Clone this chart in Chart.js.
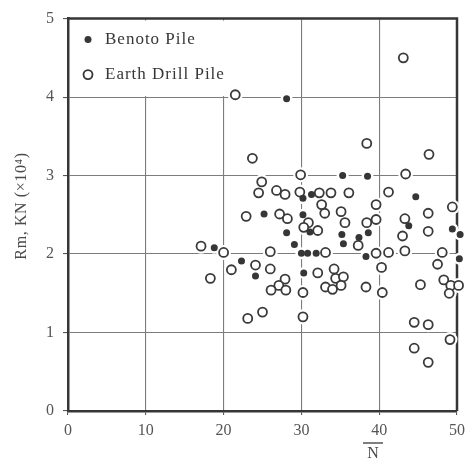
<!DOCTYPE html>
<html>
<head>
<meta charset="utf-8">
<script src="https://cdn.jsdelivr.net/npm/chart.js@4.4.1/dist/chart.umd.min.js"></script>
<style>
  html, body { margin: 0; padding: 0; background: #fff; }
  canvas { display: block; }
</style>
</head>
<body>
<canvas id="pileChart" width="474" height="466"></canvas>
<script>
// Benoto piles (filled dots): mean N value vs. ultimate bearing Rm (x10^4 kN)
const benotoN  = [28.1, 35.3, 38.5, 30.2, 31.3, 44.7, 25.2, 30.2, 28.1, 31.1,
                  35.2, 35.4, 38.6, 37.4, 43.8, 49.4, 50.4, 29.1, 30.0, 30.8,
                  31.9, 38.3, 50.3, 18.8, 22.3, 24.1, 30.3];
const benotoRm = [3.98, 3.00, 2.99, 2.71, 2.76, 2.73, 2.51, 2.50, 2.27, 2.28,
                  2.25, 2.13, 2.27, 2.21, 2.36, 2.32, 2.25, 2.12, 2.01, 2.01,
                  2.01, 1.97, 1.94, 2.08, 1.91, 1.72, 1.76];

// Earth drill piles (open circles)
const drillN  = [21.5, 43.1, 23.7, 38.4, 46.4, 29.9, 43.4, 24.9,
                 24.5, 26.8, 27.9, 29.8, 32.3, 33.8, 36.1, 41.2,
                 32.6, 33.0, 39.6, 35.1, 46.3, 49.4,
                 22.9, 27.2, 28.2, 30.9, 30.3, 32.1, 35.6, 38.4, 39.6, 43.3, 43.0, 46.3,
                 37.3,
                 17.1, 20.0, 26.0, 33.1, 39.6, 41.2, 43.3, 48.1,
                 47.5, 40.3, 18.3, 21.0, 24.1, 26.0,
                 27.9, 27.1, 26.1, 28.0, 30.2,
                 32.1, 34.2, 34.4, 35.4, 33.1, 34.0, 35.1,
                 38.3, 40.4, 45.3,
                 48.3, 49.2, 50.2, 49.0,
                 23.1, 25.0, 30.2,
                 44.5, 46.3, 49.1, 44.5, 46.3];
const drillRm = [4.03, 4.50, 3.22, 3.41, 3.27, 3.01, 3.02, 2.92,
                 2.78, 2.81, 2.76, 2.79, 2.78, 2.78, 2.78, 2.79,
                 2.63, 2.52, 2.63, 2.54, 2.52, 2.60,
                 2.48, 2.51, 2.45, 2.40, 2.34, 2.30, 2.40, 2.40, 2.44, 2.45, 2.23, 2.29,
                 2.11,
                 2.10, 2.02, 2.03, 2.02, 2.01, 2.02, 2.04, 2.02,
                 1.87, 1.83, 1.69, 1.80, 1.86, 1.81,
                 1.68, 1.60, 1.54, 1.54, 1.51,
                 1.76, 1.81, 1.69, 1.71, 1.58, 1.55, 1.60,
                 1.58, 1.51, 1.61,
                 1.67, 1.60, 1.60, 1.50,
                 1.18, 1.26, 1.20,
                 1.13, 1.10, 0.91, 0.80, 0.62];

const seriesNames = ['Benoto Pile', 'Earth Drill Pile'];
const xTickValues = [0, 10, 20, 30, 40, 50];
const yTickValues = [0, 1, 2, 3, 4, 5];
const yTitle = 'Rm, KN (×10⁴)';
const xTitle = 'N';

const INK = '#363636';
const SERIF = "'Liberation Serif', 'DejaVu Serif', serif";
const HALO = [6, 7.5];   // white clearance kept round each marker, per dataset

const toPoints = (xs, ys) => xs.map((x, i) => ({ x: x, y: ys[i] }));

// Frame, in-plot legend and the axis titles (N carries an overbar)
const figureDecor = {
    id: 'figureDecor',
    beforeDatasetsDraw(chart) {
        const { ctx, chartArea: area, scales } = chart;
        const xs = scales.x, ys = scales.y;
        ctx.save();
        // legend sits on a blank patch of the top-left cell
        ctx.fillStyle = '#fff';
        const top4 = ys.getPixelForValue(4);
        ctx.fillRect(area.left + 2, area.top + 2, xs.getPixelForValue(29) - area.left - 2, top4 - area.top - 3);
        // top and right edges of the frame
        ctx.strokeStyle = INK;
        ctx.lineWidth = 2.5;
        ctx.beginPath();
        ctx.moveTo(area.left, area.top);
        ctx.lineTo(area.right, area.top);
        ctx.lineTo(area.right, area.bottom);
        ctx.stroke();
        // grid lines stop short of the markers
        ctx.fillStyle = '#fff';
        chart.data.datasets.forEach((ds, i) => {
            chart.getDatasetMeta(i).data.forEach(pt => {
                ctx.beginPath();
                ctx.arc(pt.x, pt.y, HALO[i], 0, Math.PI * 2);
                ctx.fill();
            });
        });
        ctx.restore();
    },
    afterDraw(chart) {
        const { ctx, chartArea: area } = chart;
        ctx.save();
        // legend
        const markX = area.left + 20;
        const textX = area.left + 37;
        const rows = [area.top + 21, area.top + 56];
        ctx.font = '17px ' + SERIF;
        ctx.letterSpacing = '1px';
        ctx.textBaseline = 'middle';
        ctx.textAlign = 'left';
        ctx.fillStyle = INK;
        ctx.beginPath();
        ctx.arc(markX, rows[0], 3.5, 0, Math.PI * 2);
        ctx.fill();
        ctx.fillText(seriesNames[0], textX, rows[0]);
        ctx.strokeStyle = INK;
        ctx.lineWidth = 1.8;
        ctx.beginPath();
        ctx.arc(markX, rows[1], 4.5, 0, Math.PI * 2);
        ctx.stroke();
        ctx.fillText(seriesNames[1], textX, rows[1]);

        // y axis title
        ctx.fillStyle = '#4a4a4a';
        ctx.font = '16px ' + SERIF;
        ctx.letterSpacing = '0.6px';
        ctx.textAlign = 'center';
        ctx.translate(22, 206);
        ctx.rotate(-Math.PI / 2);
        ctx.fillText(yTitle, 0, 0);
        ctx.restore();

        // x axis title with overbar
        ctx.save();
        ctx.fillStyle = '#4a4a4a';
        ctx.font = '16px ' + SERIF;
        ctx.textAlign = 'center';
        ctx.textBaseline = 'middle';
        const nx = 373, ny = 454;
        ctx.fillText(xTitle, nx, ny);
        ctx.strokeStyle = '#555';
        ctx.lineWidth = 1.5;
        ctx.beginPath();
        ctx.moveTo(nx - 10, ny - 11);
        ctx.lineTo(nx + 10, ny - 11);
        ctx.stroke();
        ctx.restore();
    }
};

const ctx = document.getElementById('pileChart').getContext('2d');
new Chart(ctx, {
    type: 'scatter',
    data: {
        datasets: [
            {
                label: seriesNames[0],
                data: toPoints(benotoN, benotoRm),
                pointStyle: 'circle',
                pointRadius: 3.5,
                pointBorderWidth: 0,
                pointBackgroundColor: INK,
                clip: false
            },
            {
                label: seriesNames[1],
                data: toPoints(drillN, drillRm),
                pointStyle: 'circle',
                pointRadius: 4.5,
                pointBorderWidth: 1.8,
                pointBorderColor: '#3a3a3a',
                pointBackgroundColor: '#fff',
                clip: false
            }
        ]
    },
    options: {
        responsive: false,
        animation: false,
        events: [],
        layout: { padding: { top: 13, right: 17, left: 0, bottom: 0 } },
        plugins: {
            legend: { display: false },
            tooltip: { enabled: false }
        },
        scales: {
            x: {
                type: 'linear',
                min: 0,
                max: 50,
                afterBuildTicks: (scale) => { scale.ticks = xTickValues.map(v => ({ value: v })); },
                afterFit: (scale) => { scale.height = 55; },
                grid: { color: '#7c7c7c', lineWidth: 1.1, tickLength: 4, tickColor: '#555' },
                border: { color: INK, width: 2.5 },
                ticks: { color: '#555', padding: 6, font: { family: SERIF, size: 16 } }
            },
            y: {
                type: 'linear',
                min: 0,
                max: 5,
                afterBuildTicks: (scale) => { scale.ticks = yTickValues.map(v => ({ value: v })); },
                afterFit: (scale) => { scale.width = 68; },
                grid: { color: '#7c7c7c', lineWidth: 1.1, tickLength: 5, tickColor: '#555' },
                border: { color: INK, width: 2.5 },
                ticks: { color: '#555', padding: 9, font: { family: SERIF, size: 16 } }
            }
        }
    },
    plugins: [figureDecor]
});
</script>
</body>
</html>
